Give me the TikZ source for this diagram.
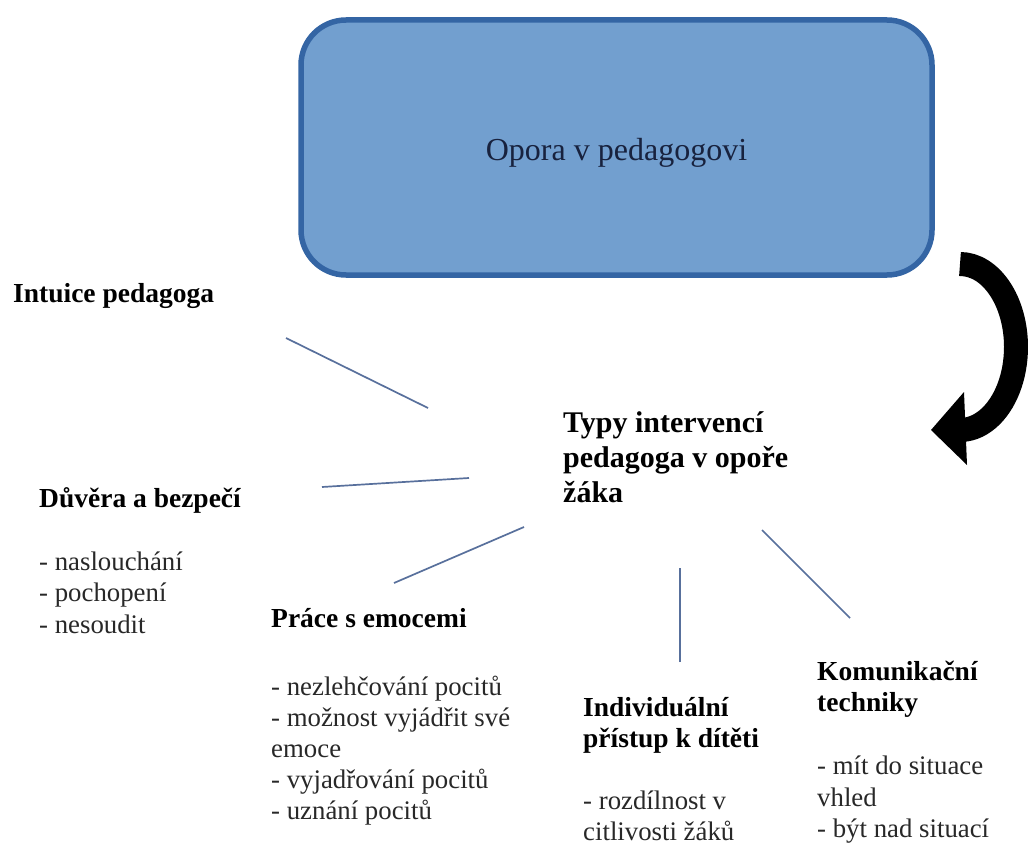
\documentclass[tikz,border=0pt]{standalone}
\usepackage{fontspec}
\setmainfont{Liberation Serif}
\usetikzlibrary{positioning}
\definecolor{boxfill}{RGB}{114,159,207}
\definecolor{boxline}{RGB}{52,101,164}
\definecolor{boxtext}{RGB}{24,34,62}
\definecolor{linkcol}{RGB}{88,112,156}
\definecolor{listcol}{RGB}{40,40,40}
\tikzset{
  mainbox/.style={draw=boxline, fill=boxfill, line width=5.5pt, rounded corners=45pt,
    minimum width=631pt, minimum height=255pt, inner sep=0pt, text=boxtext,
    font=\fontsize{32}{38}\selectfont},
  label/.style={anchor=base west, inner sep=0pt, text=black},
  link/.style={draw=linkcol, line width=1.7pt},
  bigarrow/.style={draw=black, line width=24pt}
}
\newcommand{\hd}{\fontsize{27.5}{31.5}\selectfont\bfseries}
\newcommand{\ls}{\fontsize{26.8}{31.5}\selectfont\mdseries\color{listcol}}
\begin{document}
\begin{tikzpicture}[x=1pt,y=-1pt]
\useasboundingbox[fill=white] (0,0) rectangle (1028,843);

% main box
\node[mainbox] (opora) at (616.5,147.5) {};
\node[anchor=base, inner sep=0pt, text=boxtext, font=\fontsize{32}{38}\selectfont] (oporatext) at (616.5,160) {Opora v pedagogovi};

% curved arrow
\draw[bigarrow] (960,264) arc[start angle=-90, end angle=92, x radius=56, y radius=83];
\fill[black] (964,392) -- (931,430) -- (967,465) -- cycle;

% central text
\node[label] (typy) at (563,432) {\parbox[t]{300pt}{\raggedright\fontsize{30}{35}\selectfont\bfseries
Typy intervencí\\pedagoga v opoře\\žáka}};

% surrounding topics
\node[label] (intuice) at (13,302) {\parbox[t]{300pt}{\raggedright\hd Intuice pedagoga}};

\node[label] (duvera) at (39,507) {\parbox[t]{300pt}{\raggedright\hd Důvěra a bezpečí\\[31.5pt]\ls
- naslouchání\\- pochopení\\- nesoudit}};

\node[label] (prace) at (271,627) {\parbox[t]{300pt}{\raggedright\fontsize{27.5}{31}\selectfont\bfseries Práce s emocemi\\[37pt]\fontsize{26.8}{31}\selectfont\mdseries\color{listcol}
- nezlehčování pocitů\\- možnost vyjádřit své\\emoce\\- vyjadřování pocitů\\- uznání pocitů}};

\node[label] (indiv) at (583,716) {\parbox[t]{300pt}{\raggedright\fontsize{27.5}{31}\selectfont\bfseries Individuální\\přístup k dítěti\\[31pt]\fontsize{26.8}{31}\selectfont\mdseries\color{listcol}
- rozdílnost v\\citlivosti žáků}};

\node[label] (komun) at (817,680) {\parbox[t]{300pt}{\raggedright\hd Komunikační\\techniky\\[31.5pt]\ls
- mít do situace\\vhled\\- být nad situací}};

% connector end points
\coordinate (a1) at (286,338);  \coordinate (b1) at (428,408);
\coordinate (a2) at (322,487);  \coordinate (b2) at (469,478);
\coordinate (a3) at (394,583);  \coordinate (b3) at (524,527);
\coordinate (a4) at (680,662);  \coordinate (b4) at (680,568);
\coordinate (a5) at (850,618);  \coordinate (b5) at (762,530);

\draw[link] (a1) -- (b1);
\draw[link] (a2) -- (b2);
\draw[link] (a3) -- (b3);
\draw[link] (a4) -- (b4);
\draw[link] (a5) -- (b5);
\end{tikzpicture}
\end{document}
